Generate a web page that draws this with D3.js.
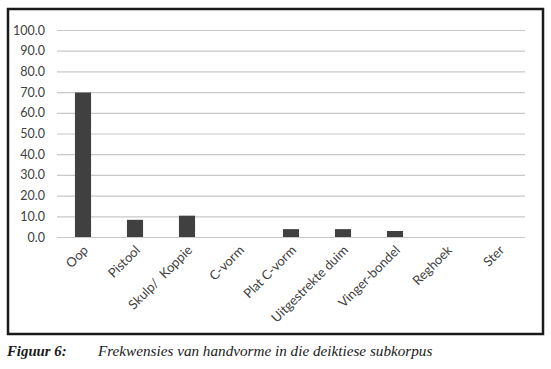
<!DOCTYPE html>
<html>
<head>
<meta charset="utf-8">
<script src="https://cdn.jsdelivr.net/npm/d3@7"></script>
<style>
  body { margin: 0; background: #fff; }
</style>
</head>
<body>
<svg id="chart"></svg>
<script>
// hand shapes and their frequencies (%)
let categories = ["Oop", "Pistool", "Skulp/  Koppie", "C-vorm", "Plat C-vorm",
                  "Uitgestrekte duim", "Vinger-bondel", "Reghoek", "Ster"]
let values = [69.8, 8.3, 10.3, 0, 3.8, 3.8, 2.9, 0, 0]
let yTicks = [0, 10, 20, 30, 40, 50, 60, 70, 80, 90, 100]

let width = 551
let height = 369
let margin = { top: 30, left: 57, right: 26, bottom: 132 }
let bodyWidth = width - margin.left - margin.right
let bodyHeight = height - margin.top - margin.bottom

let svg = d3.select("#chart")
    .attr("width", width)
    .attr("height", height)

// outer frame
svg.append("rect")
    .attr("x", 8).attr("y", 9)
    .attr("width", 535).attr("height", 325)
    .attr("fill", "none")
    .attr("stroke", "#1a1a1a")
    .attr("stroke-width", 2.5)

let xScale = d3.scaleBand()
    .domain(categories)
    .range([0, bodyWidth])
    .paddingInner(0.69)
    .paddingOuter(0.345)

let yScale = d3.scaleLinear()
    .domain([0, 100])
    .range([bodyHeight, 0])

let body = svg.append("g")
    .attr("transform", `translate(${margin.left},${margin.top})`)

// gridlines + y labels
let yAxis = body.append("g")
    .call(d3.axisLeft(yScale)
        .tickValues(yTicks)
        .tickSize(-bodyWidth)
        .tickPadding(12)
        .tickFormat(d3.format(".1f")))
yAxis.select(".domain").remove()
yAxis.selectAll(".tick line")
    .attr("stroke", "#c8c8c8")
    .attr("stroke-width", 1.2)
yAxis.selectAll(".tick text")
    .attr("fill", "#404040")
    .style("font-family", "Lato, sans-serif")
    .style("font-size", "12.5px")

// bars
body.selectAll("rect.bar")
    .data(values)
    .enter()
    .append("rect")
    .attr("class", "bar")
    .attr("x", (d, i) => xScale(categories[i]))
    .attr("y", d => yScale(d))
    .attr("width", xScale.bandwidth())
    .attr("height", d => bodyHeight - yScale(d))
    .attr("fill", "#404040")

// x labels
let xAxis = body.append("g")
    .attr("transform", `translate(0,${bodyHeight})`)
    .call(d3.axisBottom(xScale).tickSize(0).tickPadding(0))
xAxis.select(".domain").remove()
xAxis.selectAll(".tick text")
    .attr("fill", "#404040")
    .attr("xml:space", "preserve")
    .style("white-space", "pre")
    .style("font-family", "Lato, sans-serif")
    .style("font-size", "13px")
    .attr("text-anchor", "end")
    .attr("dy", "0")
    .attr("transform", "translate(6,14) rotate(-45)")

// caption
svg.append("text")
    .attr("x", 7)
    .attr("y", 356)
    .style("font-family", "'Liberation Serif', serif")
    .style("font-size", "14.8px")
    .style("font-style", "italic")
    .style("font-weight", "bold")
    .attr("fill", "#1a1a1a")
    .text("Figuur 6:")
svg.append("text")
    .attr("x", 98)
    .attr("y", 356)
    .style("font-family", "'Liberation Serif', serif")
    .style("font-size", "15.2px")
    .style("font-style", "italic")
    .attr("fill", "#1a1a1a")
    .text("Frekwensies van handvorme in die deiktiese subkorpus")
</script>
</body>
</html>
